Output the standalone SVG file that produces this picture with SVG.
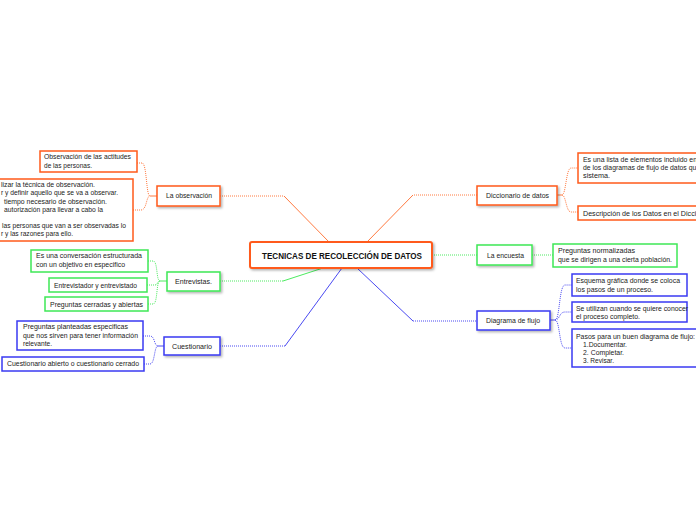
<svg xmlns="http://www.w3.org/2000/svg" width="696" height="520" viewBox="0 0 696 520">
<defs>
<filter id="sh" x="-20%" y="-30%" width="140%" height="170%">
<feDropShadow dx="1.5" dy="1.5" stdDeviation="1" flood-color="#000" flood-opacity="0.3"/>
</filter>
<style>
text{font-family:"Liberation Sans",Arial,sans-serif;font-size:7px;fill:#222}
.c{font-size:9px;font-weight:bold;fill:#111}
.o{fill:#fff;stroke:#FF5A1A;stroke-width:1.5}
.g{fill:#fff;stroke:#3EE856;stroke-width:1.5}
.b{fill:#fff;stroke:#3A3AF2;stroke-width:1.5}
.lo{fill:none;stroke:#FF7A40;stroke-width:1}
.lg{fill:none;stroke:#4CEB60;stroke-width:1}
.lb{fill:none;stroke:#4A4AF2;stroke-width:1}
.d{stroke-dasharray:1 1}
</style>
</defs>
<rect width="696" height="520" fill="#fff"/>
<g id="connectors">
<path class="lo d" d="M220,196 L284,196"/>
<path class="lo" d="M284,196 L329,242"/>
<path class="lo d" d="M477,195 L413,195"/>
<path class="lo" d="M413,195 L367,242"/>
<path class="lg d" d="M220,281 L283,281"/>
<path class="lg" d="M283,281 L323,268"/>
<path class="lb d" d="M220,346 L285,346"/>
<path class="lb" d="M285,346 L342,268"/>
<path class="lb" d="M357,268 L413,321"/>
<path class="lb d" d="M413,321 L477,321"/>
<path class="lg d" d="M432,255 L477,255"/>
<path class="lg d" d="M532,255 L553,255"/>
<path class="lo" d="M157,196 L150,196"/>
<path class="lo d" d="M137,163 L142,163 C147,163 146,196 150,196"/>
<path class="lo d" d="M133,210 L141,210 C147,210 146,196 150,196"/>
<path class="lg" d="M167,281 L160,281"/>
<path class="lg d" d="M148,261 L153,261 C158,261 156,281 160,281"/>
<path class="lg d" d="M147,285 L155,285 C158,285 157,281 160,281"/>
<path class="lg d" d="M148,304 L153,304 C158,304 156,281 160,281"/>
<path class="lb" d="M164,346 L158,346"/>
<path class="lb d" d="M143,336 L150,336 C155,336 154,346 158,346"/>
<path class="lb d" d="M144,364 L150,364 C155,364 154,346 158,346"/>
<path class="lo" d="M557,195 L562,195"/>
<path class="lo d" d="M562,195 C566,195 566,168 571,168 L578,168"/>
<path class="lo d" d="M562,195 C566,195 566,212 571,212 L578,212"/>
<path class="lb" d="M550,320 L555,320"/>
<path class="lb d" d="M555,320 C560,320 559,285 565,285 L572,285"/>
<path class="lb d" d="M555,320 C560,320 559,312 565,312 L572,312"/>
<path class="lb d" d="M555,320 C560,320 559,348 565,348 L572,348"/>
</g>
<g id="central">
<rect x="250" y="242" width="182" height="26" rx="2" class="o" style="stroke-width:2" filter="url(#sh)"/>
<text class="c" x="262" y="258.5" textLength="160" lengthAdjust="spacingAndGlyphs">TECNICAS DE RECOLECCIÓN DE DATOS</text>
</g>
<g id="observacion">
<rect x="157" y="186" width="63" height="20" class="o" filter="url(#sh)"/>
<text x="166" y="198" textLength="46" lengthAdjust="spacingAndGlyphs">La observación</text>
</g>
<g id="obs-actitudes">
<rect x="40" y="151" width="97" height="21" class="o"/>
<text x="44" y="159" textLength="87" lengthAdjust="spacingAndGlyphs">Observación de las actitudes</text>
<text x="44" y="168" textLength="48" lengthAdjust="spacingAndGlyphs">de las personas.</text>
</g>
<g id="obs-pasos">
<rect x="-5" y="179" width="138" height="62" class="o"/>
<text x="1" y="187" textLength="94" lengthAdjust="spacingAndGlyphs">lizar la técnica de observación.</text>
<text x="1" y="195" textLength="117" lengthAdjust="spacingAndGlyphs">r y definir aquello que se va a observar.</text>
<text x="4" y="204" textLength="103" lengthAdjust="spacingAndGlyphs">tiempo necesario de observación.</text>
<text x="4" y="212" textLength="99" lengthAdjust="spacingAndGlyphs">autorización para llevar a cabo la</text>
<text x="2" y="228" textLength="124" lengthAdjust="spacingAndGlyphs">las personas que van a ser observadas lo</text>
<text x="1" y="236" textLength="72" lengthAdjust="spacingAndGlyphs">r y las razones para ello.</text>
</g>
<g id="entrevistas">
<rect x="167" y="272" width="53" height="19" class="g" filter="url(#sh)"/>
<text x="175" y="283.5" textLength="37" lengthAdjust="spacingAndGlyphs">Entrevistas.</text>
</g>
<g id="ent-conversacion">
<rect x="31" y="250" width="117" height="22" class="g"/>
<text x="36" y="258" textLength="106" lengthAdjust="spacingAndGlyphs">Es una conversación estructurada</text>
<text x="36" y="266.5" textLength="89" lengthAdjust="spacingAndGlyphs">con un objetivo en especifico</text>
</g>
<g id="ent-entrevistador">
<rect x="49" y="278" width="98" height="14" class="g"/>
<text x="54" y="287.5" textLength="83" lengthAdjust="spacingAndGlyphs">Entrevistador y entrevistado</text>
</g>
<g id="ent-preguntas">
<rect x="45" y="297" width="103" height="14" class="g"/>
<text x="50" y="306.5" textLength="93" lengthAdjust="spacingAndGlyphs">Preguntas cerradas y abiertas</text>
</g>
<g id="cuestionario">
<rect x="164" y="337" width="56" height="18" class="b" filter="url(#sh)"/>
<text x="172" y="348.5" textLength="40" lengthAdjust="spacingAndGlyphs">Cuestionario</text>
</g>
<g id="cue-preguntas">
<rect x="17" y="321" width="126" height="29" class="b"/>
<text x="23" y="329" textLength="105" lengthAdjust="spacingAndGlyphs">Preguntas planteadas  especificas</text>
<text x="23" y="337.5" textLength="115" lengthAdjust="spacingAndGlyphs">que nos sirven para tener información</text>
<text x="23" y="346" textLength="29" lengthAdjust="spacingAndGlyphs">relevante.</text>
</g>
<g id="cue-tipos">
<rect x="2" y="357" width="142" height="14" class="b"/>
<text x="7" y="366" textLength="132" lengthAdjust="spacingAndGlyphs">Cuestionario abierto o cuestionario cerrado</text>
</g>
<g id="diccionario">
<rect x="477" y="186" width="80" height="19" class="o" filter="url(#sh)"/>
<text x="486" y="198" textLength="63" lengthAdjust="spacingAndGlyphs">Diccionario de datos</text>
</g>
<g id="dic-lista">
<rect x="578" y="153" width="130" height="30" class="o"/>
<text x="583" y="162" textLength="114" lengthAdjust="spacingAndGlyphs">Es una lista de elementos incluido en</text>
<text x="583" y="170" textLength="117" lengthAdjust="spacingAndGlyphs">de los diagramas de flujo de datos que</text>
<text x="583" y="178" textLength="27" lengthAdjust="spacingAndGlyphs">sistema.</text>
</g>
<g id="dic-descripcion">
<rect x="578" y="206" width="130" height="14" class="o"/>
<text x="583" y="215.5" textLength="133" lengthAdjust="spacingAndGlyphs">Descripción de los Datos en el Diccionario</text>
</g>
<g id="encuesta">
<rect x="477" y="245" width="55" height="20" class="g" filter="url(#sh)"/>
<text x="487" y="257.5" textLength="37" lengthAdjust="spacingAndGlyphs">La encuesta</text>
</g>
<g id="enc-preguntas">
<rect x="553" y="244" width="124" height="23" class="g"/>
<text x="558" y="253" textLength="77" lengthAdjust="spacingAndGlyphs">Preguntas normalizadas</text>
<text x="558" y="261.5" textLength="114" lengthAdjust="spacingAndGlyphs">que se dirigen a una cierta población.</text>
</g>
<g id="diagrama">
<rect x="477" y="311" width="73" height="19" class="b" filter="url(#sh)"/>
<text x="486" y="322.5" textLength="54" lengthAdjust="spacingAndGlyphs">Diagrama de flujo</text>
</g>
<g id="dia-esquema">
<rect x="572" y="274" width="115" height="22" class="b"/>
<text x="576" y="283" textLength="104" lengthAdjust="spacingAndGlyphs">Esquema gráfica donde se coloca</text>
<text x="576" y="291.5" textLength="77" lengthAdjust="spacingAndGlyphs">los pasos de un proceso.</text>
</g>
<g id="dia-utilizan">
<rect x="572" y="302" width="115" height="20" class="b"/>
<text x="576" y="310.5" textLength="112" lengthAdjust="spacingAndGlyphs">Se utilizan cuando se quiere conocer</text>
<text x="576" y="319" textLength="64" lengthAdjust="spacingAndGlyphs">el proceso completo.</text>
</g>
<g id="dia-pasos">
<rect x="572" y="329" width="130" height="38" class="b"/>
<text x="576" y="339" textLength="119" lengthAdjust="spacingAndGlyphs">Pasos  para un buen diagrama de flujo:</text>
<text x="583" y="347" textLength="44" lengthAdjust="spacingAndGlyphs">1.Documentar.</text>
<text x="583" y="355" textLength="41" lengthAdjust="spacingAndGlyphs">2. Completar.</text>
<text x="583" y="363" textLength="31" lengthAdjust="spacingAndGlyphs">3. Revisar.</text>
</g>
</svg>
